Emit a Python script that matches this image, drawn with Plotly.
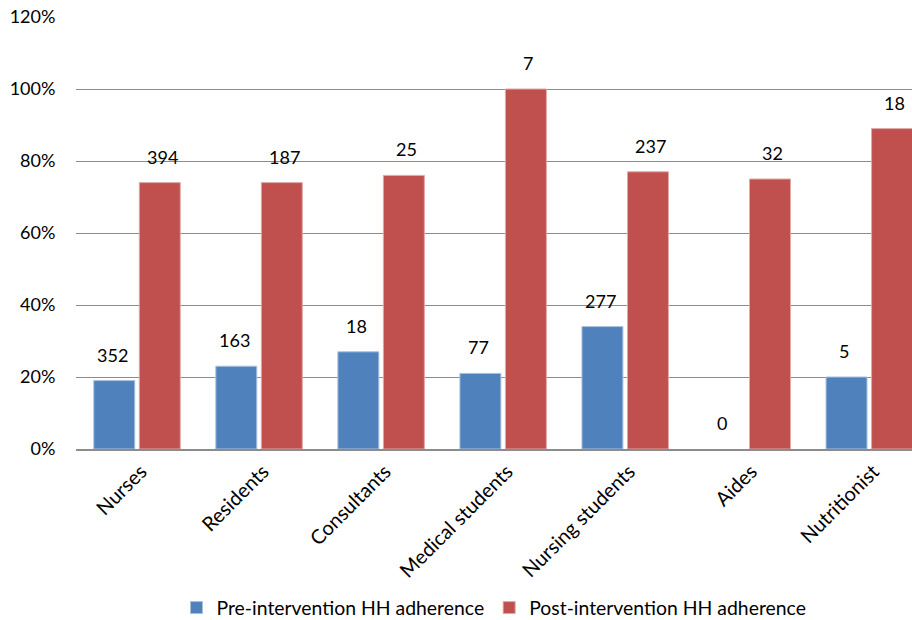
import plotly.graph_objects as go

categories = ["Nurses", "Residents", "Consultants", "Medical students",
              "Nursing students", "Aides", "Nutritionist"]
pre_values = [0.19, 0.23, 0.27, 0.21, 0.34, 0.0, 0.20]
post_values = [0.74, 0.74, 0.76, 1.00, 0.77, 0.75, 0.89]
pre_counts = [352, 163, 18, 77, 277, 0, 5]
post_counts = [394, 187, 25, 7, 237, 32, 18]
series_names = ["Pre-intervention HH adherence", "Post-intervention HH adherence"]

BLUE = "#4F81BD"
RED = "#C0504D"
FONT = "Lato"

fig = go.Figure()
fig.add_trace(go.Bar(x=categories, y=pre_values, name=series_names[0],
                     marker=dict(color=BLUE,
                                 line=dict(color="#a9c1e0",
                                           width=[0 if v == 0 else 1 for v in pre_values]))))
fig.add_trace(go.Bar(x=categories, y=post_values, name=series_names[1],
                     marker=dict(color=RED,
                                 line=dict(color="#e0a9a8",
                                           width=[0 if v == 0 else 1 for v in post_values]))))

for i, c in enumerate(categories):
    fig.add_annotation(x=c, y=pre_values[i], text=str(pre_counts[i]), xshift=-25,
                       yshift=26, showarrow=False, yanchor="middle",
                       font=dict(family=FONT, size=18, color="black"))
    fig.add_annotation(x=c, y=post_values[i], text=str(post_counts[i]), xshift=25,
                       yshift=26, showarrow=False, yanchor="middle",
                       font=dict(family=FONT, size=18, color="black"))

fig.update_layout(
    width=912, height=620,
    margin=dict(l=76, r=0, t=17, b=171, autoexpand=False),
    paper_bgcolor="white", plot_bgcolor="white",
    barmode="group", bargap=0.254, bargroupgap=0.1,
    font=dict(family=FONT, size=18, color="black"),
    showlegend=True,
    legend=dict(orientation="h", x=0.5, xanchor="center", y=-0.368, yanchor="middle",
                font=dict(family=FONT, size=19.4), traceorder="normal"),
)
fig.update_yaxes(range=[0, 1.2], dtick=0.2, tickformat=".0%", showgrid=True,
                 gridcolor="#8c8c8c", gridwidth=1, zeroline=False,
                 ticks="outside", ticklen=16, tickcolor="white", automargin=False,
                 tickfont=dict(family=FONT, size=18))
fig.update_xaxes(range=[-0.5, 6.35], tickangle=-45, showline=True, linecolor="#8c8c8c",
                 linewidth=2, tickfont=dict(family=FONT, size=20), showgrid=False,
                 automargin=False, ticklabelshift=4, ticklabelstandoff=1)

fig.write_html("out.html")
